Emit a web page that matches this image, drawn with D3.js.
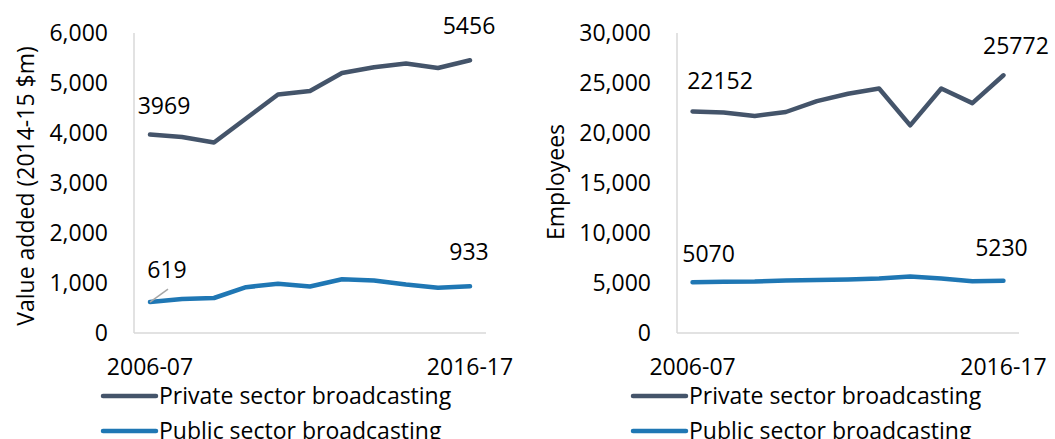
<!DOCTYPE html>
<html><head><meta charset="utf-8">
<script src="https://cdn.jsdelivr.net/npm/d3@7"></script>
<style>
body{margin:0;background:#fff;}
svg{display:block;font-family:"Open Sans",sans-serif;}
</style></head>
<body><svg id="c" width="1055" height="439"></svg>
<script>
const categories = ["2006-07","2007-08","2008-09","2009-10","2010-11","2011-12","2012-13","2013-14","2014-15","2015-16","2016-17"];
const xTickLabels = ["2006-07","2016-17"];
const seriesNames = ["Private sector broadcasting","Public sector broadcasting"];
const colors = ["#44546a","#1f77b4"];

const valuePrivate = [3969,3920,3810,4290,4770,4840,5200,5316,5390,5300,5456];
const valuePublic  = [619,680,700,917,983,930,1076,1050,970,905,933];
const valueTicks = [0,1000,2000,3000,4000,5000,6000];

const empPrivate = [22152,22050,21700,22100,23190,23920,24450,20760,24450,22990,25772];
const empPublic  = [5070,5120,5150,5250,5310,5350,5450,5650,5450,5180,5230];
const empTicks = [0,5000,10000,15000,20000,25000,30000];

const svg = d3.select("#c");
const FS = 23;

function panel(cfg){
  const g = svg.append("g");
  const x = d3.scalePoint().domain(categories).range([cfg.x0, cfg.x1]).padding(0.5);
  const y = d3.scaleLinear().domain([0, cfg.ticks[cfg.ticks.length-1]]).range([333, 33]);

  // axis lines
  g.append("line").attr("x1",cfg.x0).attr("x2",cfg.x0).attr("y1",y.range()[1]).attr("y2",y(0))
    .attr("stroke","#d9d9d9").attr("stroke-width",1.5);
  g.append("line").attr("x1",cfg.x0).attr("x2",cfg.x1).attr("y1",y(0)).attr("y2",y(0))
    .attr("stroke","#d9d9d9").attr("stroke-width",1.5);

  // y tick labels
  g.selectAll(".yt").data(cfg.ticks).enter().append("text")
    .attr("x", cfg.yLabelX).attr("y", d=>y(d)).attr("dy","0.36em")
    .attr("text-anchor","end").attr("font-size",FS).attr("fill","#000")
    .text(d3.format(",")); 

  // x tick labels
  g.selectAll(".xt").data(xTickLabels).enter().append("text")
    .attr("x", d=>x(d)).attr("y", 375).attr("text-anchor","middle")
    .attr("font-size",FS).attr("fill","#000").text(d=>d);

  // y title
  g.append("text").attr("transform",`translate(${cfg.titleX},${cfg.titleY}) rotate(-90)`)
    .attr("text-anchor","middle").attr("dy","0.35em").attr("font-size",FS).attr("fill","#000")
    .text(cfg.title);

  const line = d3.line().x((d,i)=>x(categories[i])).y(d=>y(d));
  cfg.series.forEach((s,k)=>{
    g.append("path").datum(s).attr("d",line).attr("fill","none")
      .attr("stroke",colors[k]).attr("stroke-width",4.5)
      .attr("stroke-linejoin","round").attr("stroke-linecap","round");
  });

  // data labels
  cfg.labels.forEach(l=>{
    const s = cfg.series[l.s];
    const px = x(categories[l.i]), py = y(s[l.i]);
    if(l.leader){
      g.append("line").attr("x1",px).attr("y1",py).attr("x2",px+l.leader[0]).attr("y2",py+l.leader[1])
        .attr("stroke","#a6a6a6").attr("stroke-width",1.5);
    }
    g.append("text").attr("x",px+l.dx).attr("y",py+l.dy).attr("text-anchor","middle")
      .attr("font-size",FS).attr("fill","#000").text(s[l.i]);
  });

  // legend
  seriesNames.forEach((n,k)=>{
    const ly = 396 + k*35;
    g.append("line").attr("x1",cfg.legX).attr("x2",cfg.legX+53).attr("y1",ly).attr("y2",ly)
      .attr("stroke",colors[k]).attr("stroke-width",4.5).attr("stroke-linecap","round");
    g.append("text").attr("x",cfg.legX+56).attr("y",ly).attr("dy","0.36em")
      .attr("font-size",FS).attr("fill","#000").text(n);
  });
}

panel({x0:134,x1:486,yLabelX:108,ticks:valueTicks,series:[valuePrivate,valuePublic],
  title:"Value added (2014-15 $m)",titleX:26,titleY:186,legX:103,
  labels:[{s:0,i:0,dx:14,dy:-21},{s:0,i:10,dx:-1,dy:-26},
          {s:1,i:0,dx:17,dy:-24,leader:[18,-13]},{s:1,i:10,dx:-1,dy:-26}]});

panel({x0:677,x1:1019,yLabelX:651,ticks:empTicks,series:[empPrivate,empPublic],
  title:"Employees",titleX:556,titleY:182,legX:633,
  labels:[{s:0,i:0,dx:27.5,dy:-22},{s:0,i:10,dx:12.5,dy:-21},
          {s:1,i:0,dx:16,dy:-20},{s:1,i:10,dx:-2,dy:-25}]});
</script></body></html>
